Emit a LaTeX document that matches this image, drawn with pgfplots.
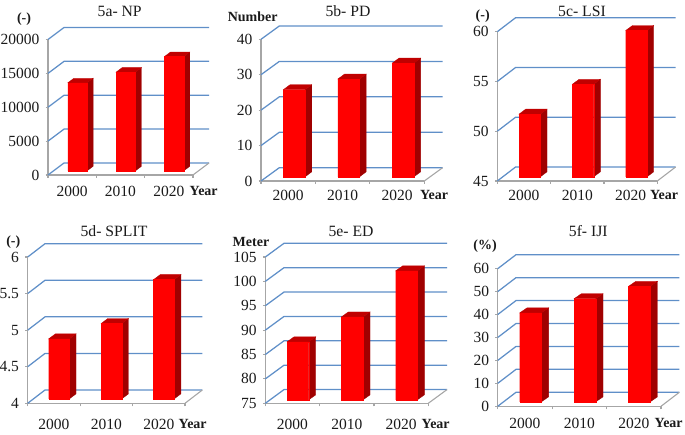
\documentclass[border=0pt]{standalone}
\usepackage{fontspec}
\setmainfont{Liberation Serif}
\usepackage{pgfplots}
\pgfplotsset{compat=1.18}

\definecolor{gridblue}{HTML}{5F8FC8}
\definecolor{axisgray}{HTML}{A6A6A6}
\definecolor{topred}{HTML}{C00000}
\definecolor{sidered}{HTML}{A00000}
\definecolor{frontred}{HTML}{FF0000}
\definecolor{txt}{HTML}{1A1A1A}

\newcommand{\setpanel}[9]{% x0,x1,y0,ytop (pixels), ymin,ymax, wall dx,dy, label drop
  \def\xo{#1}\def\xe{#2}\def\yo{#3}\def\yt{#4}\def\lo{#5}\def\hi{#6}\def\wdx{#7}\def\wdy{#8}\def\ldrop{#9}%
  \edef\catw{\fpeval{(#2-#1)/3}}%
  \edef\pu{\fpeval{(#3-#4)/(#6-#5)}}}
% bar: offset x,y from the axis plane, width, side dx, side dy
\newcommand{\setbar}[5]{\def\bx{#1}\def\by{#2}\def\bw{#3}\def\sx{#4}\def\sy{#5}}

\newcommand{\wallline}[1]{%
  \draw[gridblue,line width=1.25pt] (axis cs:0,#1) -- ++(\wdx pt,\wdy pt) -- ++(\fpeval{\xe-\xo}pt,0pt);}

\newcommand{\threedbar}[2]{% category centre, value
  \edef\xl{\fpeval{#1-\bw/2/\catw}}%
  \edef\xr{\fpeval{#1+\bw/2/\catw}}%
  \edef\xs{\fpeval{\sx/\catw}}%
  \edef\ys{\fpeval{\sy/\pu}}%
  \edef\tmp{\noexpand\addplot[fill=sidered,draw=sidered,line width=0.3pt,xshift=\bx pt,yshift=\by pt] coordinates
    {(\xr,\lo) (\xr,#2) (\fpeval{\xr+\xs},\fpeval{#2+\ys}) (\fpeval{\xr+\xs},\fpeval{\lo+\ys})} -- cycle;
    \noexpand\addplot[fill=topred,draw=topred,line width=0.3pt,xshift=\bx pt,yshift=\by pt] coordinates
    {(\xl,#2) (\xr,#2) (\fpeval{\xr+\xs},\fpeval{#2+\ys}) (\fpeval{\xl+\xs},\fpeval{#2+\ys})} -- cycle;}\tmp}

\newcommand{\panel}[4]{% yticks, three values
  \begin{axis}[
    at={(\xo pt,\fpeval{434-\yo}pt)}, anchor=south west,
    scale only axis, width=\fpeval{\xe-\xo}pt, height=\fpeval{\yo-\yt}pt,
    clip=false,
    xmin=0, xmax=3, ymin=\lo, ymax=\hi,
    axis x line*=bottom, axis y line*=left,
    axis line style={axisgray,line width=1.5pt,-},
    tick style={axisgray,line width=1.1pt},
    tick align=outside,
    xtick={0.5,1.5,2.5}, xticklabels={2000,2010,2020},
    major x tick style={draw=none},
    minor xtick={0,1,2,3},
    minor tick length=3pt, major tick length=2.5pt,
    ytick={#1},
    scaled y ticks=false,
    /pgf/number format/assume math mode=true,
    /pgf/number format/1000 sep={},
    tick label style={font=\fontsize{15.5}{17}\selectfont, text=txt},
    xticklabel style={anchor=base, inner sep=0pt, yshift=-\ldrop pt},
    yticklabel style={anchor=east, inner sep=0pt, xshift=-6pt},
  ]
  \pgfplotsinvokeforeach{#1}{\wallline{##1}}
  \draw[axisgray,line width=1.1pt] (axis cs:3,\lo) -- ++(\wdx pt,\wdy pt);
  \threedbar{0.5}{#2}\threedbar{1.5}{#3}\threedbar{2.5}{#4}
  \addplot[ybar,bar width=\bw pt,bar shift=\bx pt,yshift=\by pt,fill=frontred,draw=frontred,line width=0.3pt]
    coordinates {(0.5,#2) (1.5,#3) (2.5,#4)};
  \end{axis}}

\newcommand{\lab}[3]{\node[anchor=base,inner sep=0pt,text=txt] at (#1pt,\fpeval{434-#2}pt) {#3};}
\newcommand{\ttl}[3]{\lab{#1}{#2}{\fontsize{15.7}{17}\selectfont #3}}
\newcommand{\blab}[3]{\lab{#1}{#2}{\fontsize{14}{16}\selectfont\bfseries #3}}

\begin{document}
\begin{tikzpicture}[x=1pt,y=1pt]
\useasboundingbox (0,0) rectangle (685,434);

% 5a- NP
\setpanel{48}{193}{175}{39.5}{0}{20000}{16}{12}{19}
\setbar{5.3}{4.15}{19.3}{6}{4.5}
\panel{0,5000,10000,15000,20000}{13000}{14570}{16870}
\ttl{119.7}{17}{5a- NP}
\blab{24}{23}{(-)}
\blab{203.7}{195.5}{Year}

% 5b- PD
\setpanel{261}{424.3}{181}{39.3}{0}{40}{18.3}{13.3}{17.5}
\setbar{6}{4.15}{21.7}{6.7}{5}
\panel{0,10,20,30,40}{24.6}{27.6}{32.1}
\ttl{348}{17}{5b- PD}
\blab{252.7}{22}{Number}
\blab{434}{200}{Year}

% 5c- LSI
\setpanel{497.3}{657.3}{181}{31.7}{45}{60}{18.3}{14}{17.5}
\setbar{5.7}{4.15}{21.3}{6.7}{5}
\panel{45,50,55,60}{51.3}{54.3}{59.7}
\ttl{582}{16.5}{5c- LSI}
\blab{482.7}{20}{(-)}
\blab{664}{200}{Year}

% 5d- SPLIT
\setpanel{27.7}{185}{403.3}{257}{4}{6}{17.3}{13.3}{23.5}
\setbar{5.1}{4.45}{20.7}{6.7}{5}
\panel{4,4.5,5,5.5,6}{4.82}{5.03}{5.63}
\ttl{114}{237}{5d- SPLIT}
\blab{13.3}{246}{(-)}
\blab{192.7}{428.5}{Year}

% 5e- ED
\setpanel{265.3}{428.3}{403.3}{257}{75}{105}{18.7}{13.7}{23.5}
\setbar{5.4}{3.45}{21.7}{7}{5}
\panel{75,80,85,90,95,100,105}{86.9}{92.0}{101.45}
\ttl{351}{237}{5e- ED}
\blab{251}{247}{Meter}
\blab{435.7}{428.5}{Year}

% 5f- IJI
\setpanel{497.7}{661}{406.3}{268.7}{0}{60}{18.3}{14}{19.8}
\setbar{5.6}{4.45}{21.6}{7.3}{5}
\panel{0,10,20,30,40,50,60}{38.8}{45.0}{50.4}
\ttl{588.3}{237}{5f- IJI}
\blab{485}{250}{(\%)}
\blab{668.7}{427.5}{Year}
\end{tikzpicture}
\end{document}
